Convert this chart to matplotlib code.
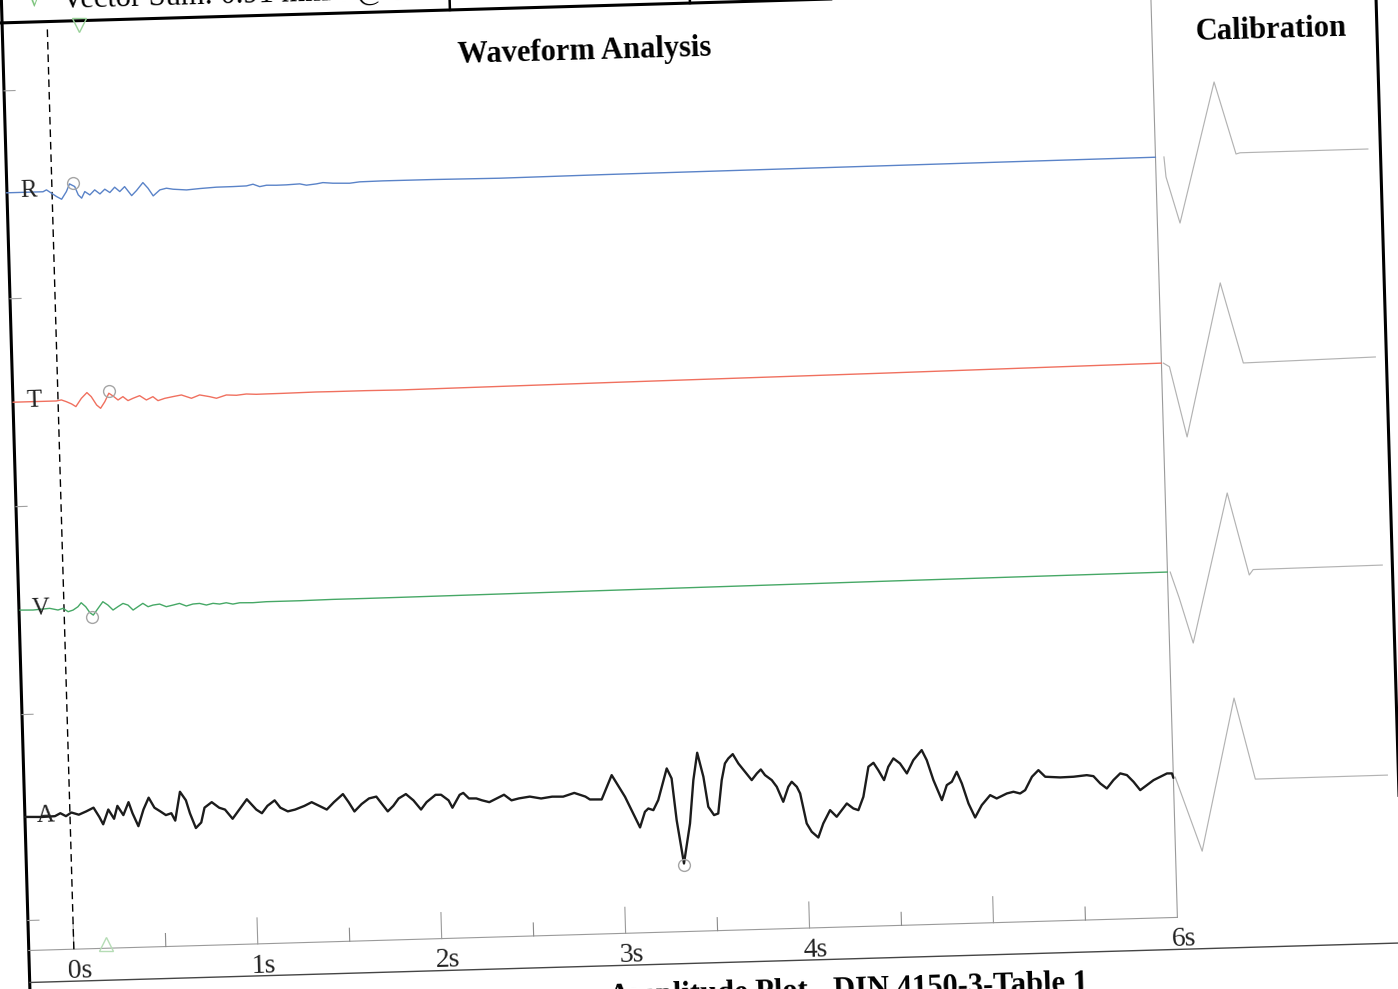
import matplotlib
matplotlib.use("Agg")
import matplotlib.pyplot as plt
from matplotlib.transforms import Affine2D

# ---------------- data ----------------
channels = ["R", "T", "V", "A"]
channel_offsets = [817, 607, 399, 191.6]          # baseline of each trace (vertical units)

r_time = [-0.248, -0.049, -0.030, -0.003, 0.024, 0.051, 0.078, 0.096, 0.124, 0.142,
          0.160, 0.178, 0.205, 0.232, 0.260, 0.287, 0.314, 0.341, 0.368, 0.395,
          0.432, 0.459, 0.495, 0.522, 0.549, 0.586, 0.622, 0.658, 0.731, 0.803,
          0.894, 0.984, 1.057, 1.093, 1.129, 1.166, 1.220, 1.274, 1.347, 1.383,
          1.437, 1.473, 1.527, 1.618, 1.673, 1.799, 2.071, 2.433, 3.0, 4.0, 5.0, 6.0]
r_amp = [-1.0, -1.0, 0.8, -2.7, -6.2, -9.0, -1.5, 6.1, 3.3, -5.1,
         -8.5, -2.0, -5.5, -0.6, -4.8, -0.2, -3.7, 1.5, -3.0, 1.8,
         -7.4, -2.5, 5.3, -0.5, -8.3, -2.5, -1.0, -2.2, -3.3, -2.3,
         -1.4, -1.3, -1.0, 0.5, -2.1, -0.9, -1.2, -1.1, -0.5, -2.0,
         -1.0, 0.1, -0.8, -1.3, -0.2, 0.1, 0.0, -0.6, 0.0, 0.5, 1.0, 1.5]

t_time = [-0.245, -0.009, 0.018, 0.045, 0.073, 0.096, 0.127, 0.158, 0.181, 0.209,
          0.230, 0.254, 0.277, 0.299, 0.326, 0.353, 0.380, 0.408, 0.444, 0.480,
          0.516, 0.543, 0.580, 0.625, 0.671, 0.725, 0.770, 0.824, 0.861, 0.915,
          0.970, 1.024, 1.078, 1.133, 1.223, 1.313, 1.404, 1.494, 1.676, 1.857,
          3.0, 4.5, 6.0]
t_amp = [-0.5, -0.5, 0.4, -1.5, -3.9, -6.7, 1.4, 7.0, 2.8, -5.7,
         -9.1, -2.6, 5.7, 2.9, -1.3, 1.9, -2.2, 0.0, 2.4, -2.1,
         1.0, -3.1, -1.0, 0.5, 1.9, -1.7, 1.4, -0.6, -2.4, 0.6,
         0.0, 1.0, 0.4, 0.5, 0.6, 0.8, 1.0, 0.9, 0.9, 0.6,
         2.0, 3.5, 5.5]

v_time = [-0.241, -0.168, -0.078, -0.033, -0.005, 0.022, 0.049, 0.076, 0.094, 0.118,
          0.140, 0.158, 0.185, 0.212, 0.239, 0.266, 0.293, 0.321, 0.348, 0.375,
          0.402, 0.429, 0.457, 0.484, 0.520, 0.556, 0.592, 0.628, 0.665, 0.701,
          0.737, 0.774, 0.810, 0.846, 0.882, 0.918, 0.955, 1.027, 1.100, 1.281,
          1.462, 1.643, 1.824, 3.0, 4.5, 6.0]
v_amp = [-0.5, -0.8, 0.4, -1.5, 0.0, -3.5, -2.0, 1.2, 5.1, 1.0,
         -5.1, -7.6, -1.0, 5.5, 2.0, -3.1, 0.1, 3.2, 1.4, -3.7,
         -0.5, 2.7, -0.8, 0.7, 1.5, -1.3, 0.1, 1.6, -1.2, 0.6,
         1.0, -0.8, 0.7, -0.2, 0.9, -0.6, 0.5, 0.2, 0.8, 0.8,
         1.2, 1.2, 1.3, 2.3, 3.5, 4.5]

a_time = [-0.243, -0.153, -0.082, -0.052, -0.022, 0.008, 0.048, 0.089, 0.129, 0.159,
          0.179, 0.209, 0.239, 0.259, 0.290, 0.320, 0.340, 0.370, 0.400, 0.430,
          0.460, 0.491, 0.521, 0.551, 0.571, 0.601, 0.632, 0.652, 0.682, 0.712,
          0.732, 0.772, 0.812, 0.843, 0.883, 0.913, 0.963, 1.013, 1.043, 1.074,
          1.114, 1.144, 1.184, 1.224, 1.275, 1.315, 1.355, 1.396, 1.436, 1.486,
          1.516, 1.546, 1.586, 1.627, 1.667, 1.697, 1.727, 1.758, 1.788, 1.828,
          1.868, 1.908, 1.939, 1.989, 2.019, 2.059, 2.079, 2.120, 2.140, 2.170,
          2.210, 2.240, 2.280, 2.321, 2.361, 2.401, 2.441, 2.501, 2.562, 2.622,
          2.682, 2.743, 2.803,
          2.827, 2.891, 2.949, 3.018, 3.095, 3.124, 3.143, 3.170, 3.198, 3.249,
          3.274, 3.295, 3.328, 3.367, 3.392, 3.417, 3.447, 3.469, 3.499, 3.522,
          3.546, 3.566, 3.585, 3.610, 3.639, 3.674, 3.709, 3.738, 3.760, 3.782,
          3.818, 3.844, 3.877, 3.907, 3.926, 3.953, 3.970, 4.001, 4.027, 4.062,
          4.091, 4.130, 4.165, 4.222, 4.257, 4.284, 4.313, 4.345, 4.373, 4.398,
          4.428,
          4.453, 4.482, 4.517, 4.553, 4.590, 4.637, 4.663, 4.696, 4.739, 4.768,
          4.796, 4.824, 4.850, 4.883, 4.917, 4.955, 5.002, 5.037, 5.093, 5.129,
          5.165, 5.193, 5.232, 5.268, 5.304, 5.385, 5.458, 5.530, 5.566, 5.602,
          5.637, 5.674, 5.712, 5.748, 5.783, 5.818, 5.855, 5.892, 5.929, 5.966,
          5.993, 6.000]
a_amp = [0.0, -0.5, -0.1, 2.7, -0.4, 3.1, 0.7, 3.8, 7.3, -2.1,
         -9.6, 5.0, -4.4, 8.4, -1.0, 11.8, 0.6, -12.5, 4.0, 15.7,
         5.5, 1.7, -2.2, -0.5, -8.0, 20.7, 12.0, -1.1, -16.0, -10.6,
         4.1, 9.4, 3.6, 1.6, -7.8, -0.6, 11.3, 0.7, -3.1, 4.1,
         9.4, 1.9, -2.0, -0.4, 3.0, 6.5, 2.6, -1.3, 5.9, 13.7,
         5.4, -4.0, 3.2, 8.6, 10.2, 2.6, -4.9, 0.5, 7.7, 11.9,
         5.4, -4.0, 3.2, 10.3, 10.2, 4.4, -3.1, 9.6, 11.4, 5.7,
         5.5, 3.5, 1.4, 4.9, 8.4, 2.6, 4.3, 5.8, 3.6, 5.1,
         4.8, 8.2, 4.2,
         1.2, 0.9, 24.9, 2.9, -28.2, -12.7, -9.5, -11.3, -1.4, 30.0,
         19.9, -22.0, -65.5, -25.7, 17.6, 44.8, 20.6, -9.5, -18.0, -16.5,
         16.7, 33.3, 38.2, 42.4, 32.9, 24.4, 15.9, 22.4, 26.3, 20.5,
         15.3, 8.5, -6.7, 8.2, 13.1, 7.9, 1.2, -29.0, -37.5, -43.4,
         -29.5, -16.4, -23.2, -10.2, -15.4, -17.2, -4.0, 25.9, 29.7, 22.2,
         12.1,
         25.3, 33.5, 28.3, 18.1, 31.2, 41.0, 30.8, 10.7, -9.6, 5.3,
         8.5, 18.3, 6.5, -13.7, -27.9, -15.7, -6.0, -9.5, -4.8, -3.3,
         -5.2, -2.0, 11.2, 17.6, 10.8, 9.7, 10.0, 11.2, 10.0, 2.5,
         -2.7, 5.5, 12.0, 10.1, 3.2, -5.3, -0.5, 4.3, 7.5, 10.6,
         10.5, 6.0]

# calibration pulses (time axis continues past the 6 s frame)
cal_r_time = [6.046, 6.054, 6.123, 6.330, 6.438, 6.460, 7.155]
cal_r_amp = [1.5, -18.5, -65.0, 75.0, 2.4, 3.5, 3.6]
cal_t_time = [6.010, 6.043, 6.128, 6.332, 6.445, 7.163]
cal_t_amp = [5.5, 1.7, -69.0, 84.0, 3.3, 5.5]
cal_v_time = [6.015, 6.060, 6.129, 6.337, 6.444, 6.466, 7.168]
cal_v_amp = [4.4, -21.8, -67.2, 81.8, -0.8, 4.5, 5.3]
cal_a_time = [6.010, 6.145, 6.342, 6.445, 7.163]
cal_a_amp = [6.7, -68.1, 84.0, 2.4, 2.6]

# peak markers (one per channel)
peak_time = [0.115, 0.280, 0.150, 3.330]
peak_amp = [7.0, 8.0, -9.8, -67.0]

major_ticks = [0, 1, 2, 3, 4, 5]
minor_ticks = [0.5, 1.5, 2.5, 3.5, 4.5, 5.5]
tick_label_pos = [0, 1, 2, 3, 4, 6]
tick_labels = ["0s", "1s", "2s", "3s", "4s", "6s"]
trigger_time = 0.173

title = "Waveform Analysis"
cal_title = "Calibration"
header_text = "Vector Sum: 0.91 mm/s @ 1.150 s"
footer_text = "Amplitude Plot - DIN 4150-3-Table 1"

# ---------------- style ----------------
plt.rcParams["font.family"] = ["Liberation Serif", "DejaVu Serif"]
trace_colors = ["#5a83c8", "#f0705f", "#46a866", "#1c1c1c"]
trace_widths = [1.0, 1.0, 1.0, 1.7]
cal_color = "#b3b3b3"
frame_left, plot_right, frame_right = -0.245, 6.0, 7.223
header_y, axis_y, foot_y = 986, 58, 26

fig = plt.figure(figsize=(13.98, 9.89), dpi=100)
fig.patch.set_facecolor("white")
ax = fig.add_axes([0, 0, 1, 1])
ax.set_xlim(-0.3315, 7.2663)
ax.set_ylim(0, 989)
ax.axis("off")

traces = [(r_time, r_amp), (t_time, t_amp), (v_time, v_amp), (a_time, a_amp)]
cals = [(cal_r_time, cal_r_amp), (cal_t_time, cal_t_amp),
        (cal_v_time, cal_v_amp), (cal_a_time, cal_a_amp)]

# frame
ax.plot([frame_left, frame_left], [-30, 1020], color="black", lw=2.2)
ax.plot([-0.5, 7.5], [header_y, header_y], color="black", lw=2.2)
for hx in [2.190, 3.495]:
    ax.plot([hx, hx], [header_y, 1020], color="black", lw=1.8)
ax.plot([frame_right, frame_right], [foot_y, 1020], color="black", lw=2.2)
ax.plot([frame_left, 7.5], [foot_y, foot_y], color="#454545", lw=1.0)
ax.plot([plot_right, plot_right], [axis_y, header_y], color="#9a9a9a", lw=0.8)
ax.plot([frame_left, plot_right], [axis_y, axis_y], color="#9a9a9a", lw=0.8)

# time ticks
for s in major_ticks:
    ax.plot([s, s], [axis_y, axis_y + 26], color="#9a9a9a", lw=0.8)
for s in minor_ticks:
    ax.plot([s, s], [axis_y, axis_y + 13], color="#8a8a8a", lw=0.8)
for s, lab in zip(tick_label_pos, tick_labels):
    ax.text(s + 0.03, 36, lab, ha="center", va="center", fontsize=20, color="#222222")

# left band ticks (between channels)
for b in [918, 710, 502, 294, 88]:
    ax.plot([frame_left, frame_left + 0.06], [b, b], color="#a0a0a0", lw=0.8)

# trigger line and markers
ax.plot([0, 0], [axis_y, 980], color="black", lw=1.0, dashes=(5.5, 3.5))
ax.plot([trigger_time], [982], marker="v", ms=10, mfc="none", mec="#9ad19a", mew=1.0)
ax.plot([trigger_time], [62], marker="^", ms=10, mfc="none", mec="#b5dcb5", mew=1.0)

# traces
for name, base, col, lw, (tt, aa), (ct, ca), pt, pa in zip(
        channels, channel_offsets, trace_colors, trace_widths, traces, cals,
        peak_time, peak_amp):
    ax.plot(tt, [base + v for v in aa], color=col, lw=lw,
            solid_joinstyle="round", solid_capstyle="round")
    ax.plot(ct, [base + v for v in ca], color=cal_color, lw=0.85)
    ax.plot([pt], [base + pa], marker="o", ms=8.5, mfc="none", mec="#a5a5a5", mew=1.0)
    ax.text(-0.13, base + 0.5, name, ha="center", va="center", fontsize=18, color="#222222")

# titles
ax.text(2.913, 940, title, ha="center", va="center", fontsize=22, fontweight="bold")
ax.text(6.647, 942, cal_title, ha="center", va="center", fontsize=22, fontweight="bold")
ax.text(0.082, 999, header_text, ha="left", va="baseline", fontsize=22)
ax.text(-0.065, 1003, "\u221a", ha="center", va="baseline", fontsize=14,
        color="#7cc47c", family=["DejaVu Sans"])
ax.text(2.90, 9, footer_text, ha="left", va="top", fontsize=22, fontweight="bold")

# scanned page is slightly tilted: rotate every artist about the page centre
rot = Affine2D().rotate_deg_around(699, 495, 1.65)
for ln in ax.lines:
    ln.set_transform(ax.transData + rot)
    ln.set_clip_on(False)
for tx in ax.texts:
    tx.set_transform(ax.transData + rot)
    tx.set_clip_on(False)
    tx.set_rotation(1.65)
    tx.set_rotation_mode("anchor")

fig.savefig("out.png", dpi=100, facecolor="white")
